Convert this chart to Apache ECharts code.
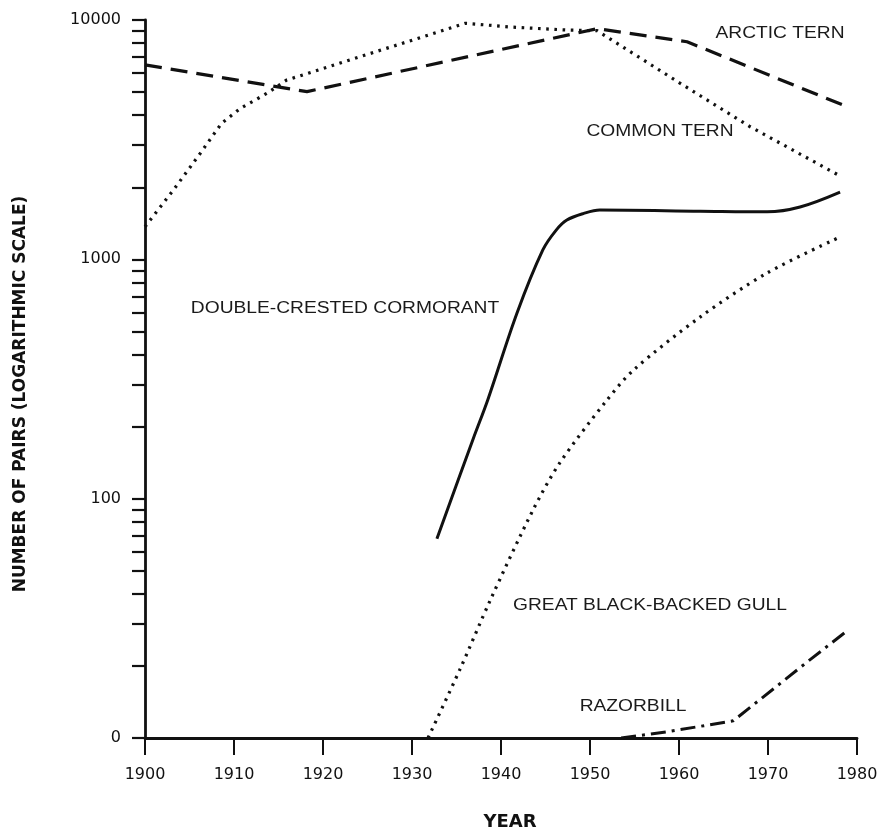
<!DOCTYPE html>
<html><head><meta charset="utf-8">
<script src="https://cdn.jsdelivr.net/npm/echarts@6/dist/echarts.min.js"></script>
<style>html,body{margin:0;padding:0;background:#fff}#c{width:882px;height:829px}</style>
</head><body><div id="c"></div>
<script>
// ---- axis data ----
const yearTicks = [1900, 1910, 1920, 1930, 1940, 1950, 1960, 1970, 1980];
const yLabelValues = [10, 100, 1000, 10000];
const yLabelTexts = ['0', '100', '1000', '10000'];
const yTickValues = [10, 20, 30, 40, 50, 60, 70, 80, 90,
  100, 200, 300, 400, 500, 600, 700, 800, 900,
  1000, 2000, 3000, 4000, 5000, 6000, 7000, 8000, 9000, 10000];

// ---- series data ----
const arcticYears = [1900, 1918.2, 1950.8, 1960.9, 1978.7];
const arcticPairs = [6490, 5020, 9200, 8110, 4370];

const commonYears = [1900, 1903.2, 1906.2, 1908.6, 1910.7, 1913.7, 1915.9, 1936, 1941, 1947.4, 1950.8, 1960.1, 1968, 1978.1];
const commonPairs = [1368, 1950, 2770, 3700, 4270, 4940, 5610, 9690, 9350, 9080, 9020, 5450, 3580, 2230];

const cormorantYears = [1932.8, 1936.9, 1938.5, 1941.8, 1944.7, 1946.2, 1947.4, 1949.3, 1951.1, 1962.4, 1969.9, 1973.6, 1978.1];
const cormorantPairs = [68, 179, 258, 597, 1095, 1325, 1460, 1556, 1607, 1590, 1580, 1655, 1910];

const gullYears = [1931.8, 1935.4, 1938.8, 1943.6, 1946.6, 1951.9, 1954.9, 1962.4, 1969.9, 1978.1];
const gullPairs = [10, 19.4, 37.7, 89.7, 141, 258, 345, 575, 877, 1240];

const razorbillYears = [1953.5, 1958.6, 1966.1, 1974.7, 1978.7];
const razorbillPairs = [10, 10.6, 11.8, 21.2, 27.7];

const labels = [
  {text: 'ARCTIC TERN', x: 780, y: 34},
  {text: 'COMMON TERN', x: 660, y: 132},
  {text: 'DOUBLE-CRESTED CORMORANT', x: 345, y: 309},
  {text: 'GREAT BLACK-BACKED GULL', x: 650, y: 606},
  {text: 'RAZORBILL', x: 633, y: 707}
];

function zip(xs, ys) { return xs.map((x, i) => [x, ys[i]]); }

const INK = '#111';
const dotted = {color: INK, width: 3.2, type: [2.6, 5.6]};

const chart = echarts.init(document.getElementById('c'), null, {renderer: 'canvas'});
chart.setOption({
  animation: false,
  backgroundColor: '#fff',
  grid: {left: 145, right: 25, top: 20, bottom: 91, containLabel: false, outerBoundsMode: 'none'},
  xAxis: {
    type: 'value', min: 1900, max: 1980, interval: 10,
    name: 'YEAR', nameLocation: 'middle', nameGap: 75,
    nameTextStyle: {fontFamily: 'DejaVu Sans', fontWeight: 'bold', fontSize: 18, color: INK, padding: [0, 0, 0, 18]},
    axisLine: {lineStyle: {color: INK, width: 2.8}},
    axisTick: {inside: false, length: 17, lineStyle: {color: INK, width: 2}},
    axisLabel: {margin: 29, fontFamily: 'DejaVu Sans', fontSize: 16, color: INK, formatter: v => String(v)},
    splitLine: {show: false}
  },
  yAxis: {
    type: 'log', logBase: 10, min: 10, max: 10000,
    name: 'NUMBER OF PAIRS (LOGARITHMIC SCALE)', nameLocation: 'middle', nameGap: 116, nameRotate: 90,
    nameTextStyle: {fontFamily: 'DejaVu Sans', fontWeight: 'bold', fontSize: 17, color: INK, padding: [0, 30, 0, 0]},
    axisLine: {show: true, lineStyle: {color: INK, width: 2.8}},
    axisTick: {inside: false, length: 13, customValues: yTickValues, lineStyle: {color: INK, width: 2.2}},
    axisLabel: {margin: 24, fontFamily: 'DejaVu Sans', fontSize: 16, color: INK, customValues: yLabelValues,
      formatter: v => { const i = yLabelValues.findIndex(t => Math.abs(t - v) / t < 1e-6); return i >= 0 ? yLabelTexts[i] : ''; }},
    splitLine: {show: false}
  },
  graphic: labels.map(l => ({
    type: 'text', x: l.x, y: l.y, scaleX: 1.2,
    style: {text: l.text, fill: '#1a1a1a', font: '16px "Liberation Sans"', align: 'center', verticalAlign: 'middle'}
  })),
  series: [
    {name: 'Arctic Tern', type: 'line', data: zip(arcticYears, arcticPairs), showSymbol: false,
      lineStyle: {color: INK, width: 3.2, type: [17, 9]}},
    {name: 'Common Tern', type: 'line', data: zip(commonYears, commonPairs), showSymbol: false,
      lineStyle: dotted},
    {name: 'Double-crested Cormorant', type: 'line', data: zip(cormorantYears, cormorantPairs), showSymbol: false, smooth: 0.35,
      lineStyle: {color: INK, width: 3}},
    {name: 'Great Black-backed Gull', type: 'line', data: zip(gullYears, gullPairs), showSymbol: false, smooth: 0.3,
      lineStyle: dotted},
    {name: 'Razorbill', type: 'line', data: zip(razorbillYears, razorbillPairs), showSymbol: false,
      lineStyle: {color: INK, width: 3, type: [15, 6, 3, 6]}}
  ]
});
</script></body></html>
